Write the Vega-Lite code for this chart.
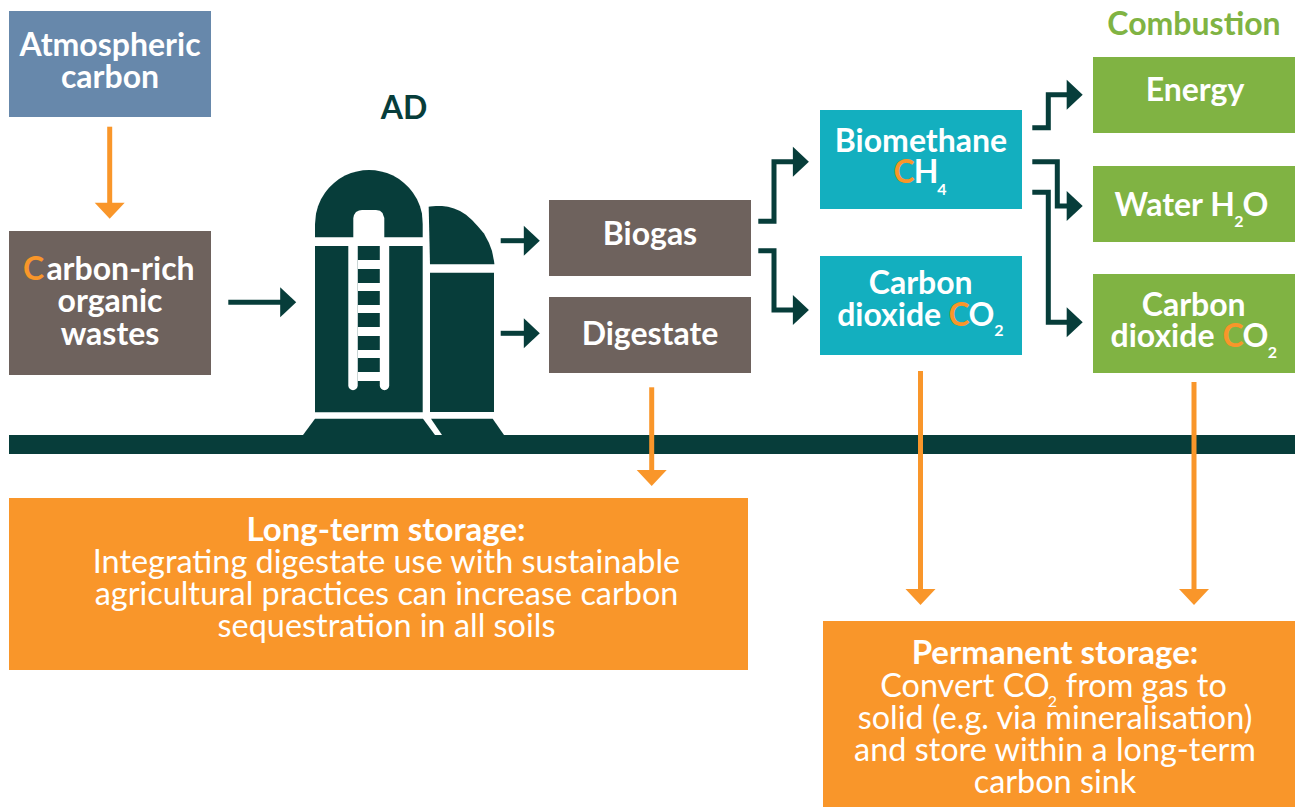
{"$schema":"https://vega.github.io/schema/vega-lite/v6.json","width":1295,"height":807,"padding":0,"autosize":{"type":"none"},"background":"#ffffff","config":{"view":{"stroke":null}},
"datasets":{
"rects":[
{"name":"ground","tone":"dark","x":9,"x2":1295,"y":435,"y2":454},
{"name":"Atmospheric carbon","tone":"slate","x":9,"x2":211,"y":11,"y2":117},
{"name":"Organic wastes","tone":"taupe","x":9,"x2":211,"y":231,"y2":375},
{"name":"Biogas","tone":"taupe","x":549,"x2":751,"y":200,"y2":276},
{"name":"Digestate","tone":"taupe","x":549,"x2":751,"y":297,"y2":373},
{"name":"Biomethane","tone":"teal","x":820,"x2":1022,"y":110,"y2":209},
{"name":"CO2 separated","tone":"teal","x":820,"x2":1022,"y":256,"y2":355},
{"name":"Energy","tone":"green","x":1093,"x2":1295,"y":57,"y2":133},
{"name":"Water","tone":"green","x":1093,"x2":1295,"y":166,"y2":242},
{"name":"CO2 combustion","tone":"green","x":1093,"x2":1295,"y":274,"y2":373},
{"name":"Long-term storage","tone":"orange","x":9,"x2":748,"y":498,"y2":670},
{"name":"Permanent storage","tone":"orange","x":823,"x2":1295,"y":621,"y2":807},
{"name":"silo body left","tone":"dark","x":315,"x2":422.7,"y":246,"y2":412.3},
{"name":"silo body right","tone":"dark","x":430,"x2":494,"y":272.7,"y2":412},
{"name":"ladder gap","tone":"white","x":357.7,"x2":380,"y":246,"y2":381},
{"name":"rung 1","tone":"dark","x":357.7,"x2":380,"y":246,"y2":260},
{"name":"rung 2","tone":"dark","x":357.7,"x2":380,"y":269,"y2":283},
{"name":"rung 3","tone":"dark","x":357.7,"x2":380,"y":291,"y2":305},
{"name":"rung 4","tone":"dark","x":357.7,"x2":380,"y":313,"y2":327},
{"name":"rung 5","tone":"dark","x":357.7,"x2":380,"y":336,"y2":350},
{"name":"rung 6","tone":"dark","x":357.7,"x2":380,"y":358,"y2":372}
],
"shapes":[
{"part":"a dome left","tone":"dark","x":315,"y":224,"y2":237.3},{"part":"a dome left","tone":"dark","x":316,"y":213.7,"y2":237.3},{"part":"a dome left","tone":"dark","x":318,"y":206.3,"y2":237.3},{"part":"a dome left","tone":"dark","x":321,"y":199.3,"y2":237.3},{"part":"a dome left","tone":"dark","x":325,"y":192.7,"y2":237.3},{"part":"a dome left","tone":"dark","x":329,"y":187.7,"y2":237.3},{"part":"a dome left","tone":"dark","x":334,"y":182.9,"y2":237.3},{"part":"a dome left","tone":"dark","x":339,"y":179.1,"y2":237.3},{"part":"a dome left","tone":"dark","x":345,"y":175.6,"y2":237.3},{"part":"a dome left","tone":"dark","x":351,"y":173.1,"y2":237.3},{"part":"a dome left","tone":"dark","x":357,"y":171.4,"y2":237.3},{"part":"a dome left","tone":"dark","x":363,"y":170.3,"y2":237.3},{"part":"a dome left","tone":"dark","x":369,"y":170,"y2":237.3},{"part":"a dome left","tone":"dark","x":375,"y":170.3,"y2":237.3},{"part":"a dome left","tone":"dark","x":381,"y":171.4,"y2":237.3},{"part":"a dome left","tone":"dark","x":387,"y":173.1,"y2":237.3},{"part":"a dome left","tone":"dark","x":393,"y":175.6,"y2":237.3},{"part":"a dome left","tone":"dark","x":399,"y":179.1,"y2":237.3},{"part":"a dome left","tone":"dark","x":404,"y":182.9,"y2":237.3},{"part":"a dome left","tone":"dark","x":409,"y":187.7,"y2":237.3},{"part":"a dome left","tone":"dark","x":413,"y":192.7,"y2":237.3},{"part":"a dome left","tone":"dark","x":417,"y":199.3,"y2":237.3},{"part":"a dome left","tone":"dark","x":420,"y":206.3,"y2":237.3},{"part":"a dome left","tone":"dark","x":422,"y":213.7,"y2":237.3},{"part":"a dome left","tone":"dark","x":422.7,"y":224,"y2":237.3},
{"part":"b dome cut","tone":"white","x":353.3,"y":218,"y2":238.5},{"part":"b dome cut","tone":"white","x":354,"y":215,"y2":238.5},{"part":"b dome cut","tone":"white","x":356,"y":212,"y2":238.5},{"part":"b dome cut","tone":"white","x":359,"y":210.5,"y2":238.5},{"part":"b dome cut","tone":"white","x":362,"y":210,"y2":238.5},{"part":"b dome cut","tone":"white","x":376,"y":210,"y2":238.5},{"part":"b dome cut","tone":"white","x":380,"y":210.8,"y2":238.5},{"part":"b dome cut","tone":"white","x":382.5,"y":213,"y2":238.5},{"part":"b dome cut","tone":"white","x":384.3,"y":218,"y2":238.5},
{"part":"c dome right","tone":"dark","x":428.7,"y":206.8,"y2":207.5},{"part":"c dome right","tone":"dark","x":430,"y":206.5,"y2":264.3},{"part":"c dome right","tone":"dark","x":436,"y":206,"y2":264.3},{"part":"c dome right","tone":"dark","x":442,"y":206,"y2":264.3},{"part":"c dome right","tone":"dark","x":448,"y":206.8,"y2":264.3},{"part":"c dome right","tone":"dark","x":454,"y":208.5,"y2":264.3},{"part":"c dome right","tone":"dark","x":460,"y":211,"y2":264.3},{"part":"c dome right","tone":"dark","x":466,"y":214.8,"y2":264.3},{"part":"c dome right","tone":"dark","x":472,"y":220,"y2":264.3},{"part":"c dome right","tone":"dark","x":478,"y":226.5,"y2":264.3},{"part":"c dome right","tone":"dark","x":484,"y":233.5,"y2":264.3},{"part":"c dome right","tone":"dark","x":489,"y":243,"y2":264.3},{"part":"c dome right","tone":"dark","x":492,"y":251,"y2":264.3},{"part":"c dome right","tone":"dark","x":494,"y":261,"y2":264.3},{"part":"c dome right","tone":"dark","x":494.4,"y":264.3,"y2":264.3},
{"part":"d base left","tone":"dark","x":303,"y":435,"y2":435},{"part":"d base left","tone":"dark","x":315,"y":418.7,"y2":435},{"part":"d base left","tone":"dark","x":423,"y":418.7,"y2":435},{"part":"d base left","tone":"dark","x":435,"y":435,"y2":435},
{"part":"e base right","tone":"dark","x":431,"y":418.7,"y2":418.7},{"part":"e base right","tone":"dark","x":442,"y":418.7,"y2":435},{"part":"e base right","tone":"dark","x":492.7,"y":418.7,"y2":435},{"part":"e base right","tone":"dark","x":504,"y":435,"y2":435}
],
"rails":[
{"rail":"left","tone":"white","x":353,"y":246,"step":1},{"rail":"left","tone":"white","x":353,"y":385.5,"step":2},
{"rail":"right","tone":"white","x":384.5,"y":246,"step":1},{"rail":"right","tone":"white","x":384.5,"y":385.5,"step":2}
],
"paths":[
{"route":"wastes-ad","tone":"dark","step":1,"x":228.3,"y":302.3},{"route":"wastes-ad","tone":"dark","step":2,"x":282,"y":302.3},
{"route":"ad-biogas","tone":"dark","step":1,"x":500.7,"y":240.7},{"route":"ad-biogas","tone":"dark","step":2,"x":526,"y":240.7},
{"route":"ad-digestate","tone":"dark","step":1,"x":500.7,"y":333.3},{"route":"ad-digestate","tone":"dark","step":2,"x":526,"y":333.3},
{"route":"biogas-ch4","tone":"dark","step":1,"x":758.3,"y":221.2},{"route":"biogas-ch4","tone":"dark","step":2,"x":774,"y":221.2},{"route":"biogas-ch4","tone":"dark","step":3,"x":774,"y":161.7},{"route":"biogas-ch4","tone":"dark","step":4,"x":795,"y":161.7},
{"route":"biogas-co2","tone":"dark","step":1,"x":758.3,"y":250.7},{"route":"biogas-co2","tone":"dark","step":2,"x":774,"y":250.7},{"route":"biogas-co2","tone":"dark","step":3,"x":774,"y":310},{"route":"biogas-co2","tone":"dark","step":4,"x":795,"y":310},
{"route":"ch4-energy","tone":"dark","step":1,"x":1032.3,"y":127.7},{"route":"ch4-energy","tone":"dark","step":2,"x":1048.3,"y":127.7},{"route":"ch4-energy","tone":"dark","step":3,"x":1048.3,"y":94.7},{"route":"ch4-energy","tone":"dark","step":4,"x":1069,"y":94.7},
{"route":"ch4-water","tone":"dark","step":1,"x":1032.3,"y":161.7},{"route":"ch4-water","tone":"dark","step":2,"x":1057.3,"y":161.7},{"route":"ch4-water","tone":"dark","step":3,"x":1057.3,"y":206},{"route":"ch4-water","tone":"dark","step":4,"x":1069,"y":206},
{"route":"ch4-co2","tone":"dark","step":1,"x":1032.3,"y":192.3},{"route":"ch4-co2","tone":"dark","step":2,"x":1048.3,"y":192.3},{"route":"ch4-co2","tone":"dark","step":3,"x":1048.3,"y":322.3},{"route":"ch4-co2","tone":"dark","step":4,"x":1069,"y":322.3},
{"route":"atmos-wastes","tone":"orange","step":1,"x":109.7,"y":126.7},{"route":"atmos-wastes","tone":"orange","step":2,"x":109.7,"y":205},
{"route":"digestate-store","tone":"orange","step":1,"x":651.7,"y":387.3},{"route":"digestate-store","tone":"orange","step":2,"x":651.7,"y":472},
{"route":"co2-store","tone":"orange","step":1,"x":920.5,"y":371},{"route":"co2-store","tone":"orange","step":2,"x":920.5,"y":591},
{"route":"co2-store-2","tone":"orange","step":1,"x":1194,"y":382},{"route":"co2-store-2","tone":"orange","step":2,"x":1194,"y":591}
],
"heads":[
{"dir":"right","tone":"dark","x":288.2,"y":302.3},
{"dir":"right","tone":"dark","x":531.8,"y":240.7},
{"dir":"right","tone":"dark","x":531.8,"y":333.3},
{"dir":"right","tone":"dark","x":800.9,"y":161.7},
{"dir":"right","tone":"dark","x":800.9,"y":310},
{"dir":"right","tone":"dark","x":1074.7,"y":94.7},
{"dir":"right","tone":"dark","x":1074.7,"y":206},
{"dir":"right","tone":"dark","x":1074.7,"y":322.3},
{"dir":"down","tone":"orange","x":109.7,"y":210.7},
{"dir":"down","tone":"orange","x":651.7,"y":478},
{"dir":"down","tone":"orange","x":920.5,"y":597},
{"dir":"down","tone":"orange","x":1194,"y":597}
],
"bold":[
{"label":"Atmospheric","tone":"white","x":110,"y":56},
{"label":"carbon","tone":"white","x":110,"y":88},
{"label":"C","tone":"orange","x":33.5,"y":280},
{"label":"arbon-rich","tone":"white","x":120.5,"y":280},
{"label":"organic","tone":"white","x":110,"y":312},
{"label":"wastes","tone":"white","x":110,"y":344.5},
{"label":"AD","tone":"dark","x":404,"y":119},
{"label":"Combustion","tone":"green","x":1194,"y":35},
{"label":"Biogas","tone":"white","x":650,"y":245},
{"label":"Digestate","tone":"white","x":650,"y":345},
{"label":"Biomethane","tone":"white","x":921,"y":151.5},
{"label":"C","tone":"orange","x":904,"y":183},
{"label":"H","tone":"white","x":926,"y":183},
{"label":"Carbon","tone":"white","x":920.7,"y":293.5},
{"label":"dioxide","tone":"white","x":889.2,"y":325.5},
{"label":"C","tone":"orange","x":959,"y":325.5},
{"label":"O","tone":"white","x":981.5,"y":325.5},
{"label":"Energy","tone":"white","x":1195,"y":101},
{"label":"Water H","tone":"white","x":1174.7,"y":216},
{"label":"O","tone":"white","x":1255.5,"y":216},
{"label":"Carbon","tone":"white","x":1193.7,"y":315.5},
{"label":"dioxide","tone":"white","x":1162.5,"y":347},
{"label":"C","tone":"orange","x":1233,"y":347},
{"label":"O","tone":"white","x":1255.3,"y":347}
],
"headings":[
{"label":"Long-term storage:","tone":"white","x":386,"y":540.5},
{"label":"Permanent storage:","tone":"white","x":1055,"y":664}
],
"regular":[
{"label":"Integrating digestate use with sustainable","tone":"white","x":386.5,"y":573},
{"label":"agricultural practices can increase carbon","tone":"white","x":386.5,"y":605},
{"label":"sequestration in all soils","tone":"white","x":386.5,"y":637},
{"label":"Convert CO","tone":"white","x":965,"y":696.5},
{"label":"from gas to","tone":"white","x":1146.3,"y":696.5},
{"label":"solid (e.g. via mineralisation)","tone":"white","x":1055,"y":728.5},
{"label":"and store within a long-term","tone":"white","x":1055,"y":760.5},
{"label":"carbon sink","tone":"white","x":1055,"y":792.5}
],
"subbold":[
{"label":"4","tone":"white","x":942,"y":195},
{"label":"2","tone":"white","x":999,"y":336},
{"label":"2","tone":"white","x":1239,"y":227},
{"label":"2","tone":"white","x":1272.5,"y":357.5}
],
"subregular":[
{"label":"2","tone":"white","x":1052.5,"y":707}
]
},
"encoding":{
"x":{"field":"x","type":"quantitative","axis":null,"scale":{"domain":[0,1295],"nice":false,"zero":false}},
"y":{"field":"y","type":"quantitative","axis":null,"stack":null,"scale":{"domain":[807,0],"nice":false,"zero":false}},
"color":{"field":"tone","type":"nominal","legend":null,"scale":{"domain":["dark","slate","taupe","teal","green","orange","white"],"range":["#073d3a","#6788ab","#6e625d","#13afbf","#80b343","#f9962a","#ffffff"]}}
},
"layer":[
{"data":{"name":"rects"},"mark":{"type":"rect","opacity":1},"encoding":{"x2":{"field":"x2"},"y2":{"field":"y2"}}},
{"data":{"name":"rails"},"mark":{"type":"line","strokeWidth":9.4,"strokeCap":"round"},"encoding":{"detail":{"field":"rail"},"order":{"field":"step","type":"quantitative"}}},
{"data":{"name":"shapes"},"mark":{"type":"area","opacity":1,"interpolate":"linear"},"encoding":{"y2":{"field":"y2"},"detail":{"field":"part"}}},
{"data":{"name":"paths"},"mark":{"type":"line","strokeWidth":5,"strokeCap":"butt","strokeJoin":"miter"},"encoding":{"detail":{"field":"route"},"order":{"field":"step","type":"quantitative"}}},
{"data":{"name":"heads"},"mark":{"type":"point","filled":true,"opacity":1,"size":900,"strokeWidth":0},"encoding":{"shape":{"field":"dir","type":"nominal","legend":null,"scale":{"domain":["right","down"],"range":["M-0.533,-1L0.533,0L-0.533,1Z","M-1,-0.533L1,-0.533L0,0.533Z"]}}}},
{"data":{"name":"bold"},"mark":{"type":"text","font":"Lato","fontWeight":"bold","fontSize":32,"baseline":"alphabetic","align":"center"},"encoding":{"text":{"field":"label"}}},
{"data":{"name":"headings"},"mark":{"type":"text","font":"Lato","fontWeight":"bold","fontSize":33,"baseline":"alphabetic","align":"center"},"encoding":{"text":{"field":"label"}}},
{"data":{"name":"regular"},"mark":{"type":"text","font":"Lato","fontWeight":"normal","fontSize":32.4,"baseline":"alphabetic","align":"center"},"encoding":{"text":{"field":"label"}}},
{"data":{"name":"subbold"},"mark":{"type":"text","font":"Lato","fontWeight":"bold","fontSize":16,"baseline":"alphabetic","align":"center"},"encoding":{"text":{"field":"label"}}},
{"data":{"name":"subregular"},"mark":{"type":"text","font":"Lato","fontWeight":"normal","fontSize":16,"baseline":"alphabetic","align":"center"},"encoding":{"text":{"field":"label"}}}
]}
